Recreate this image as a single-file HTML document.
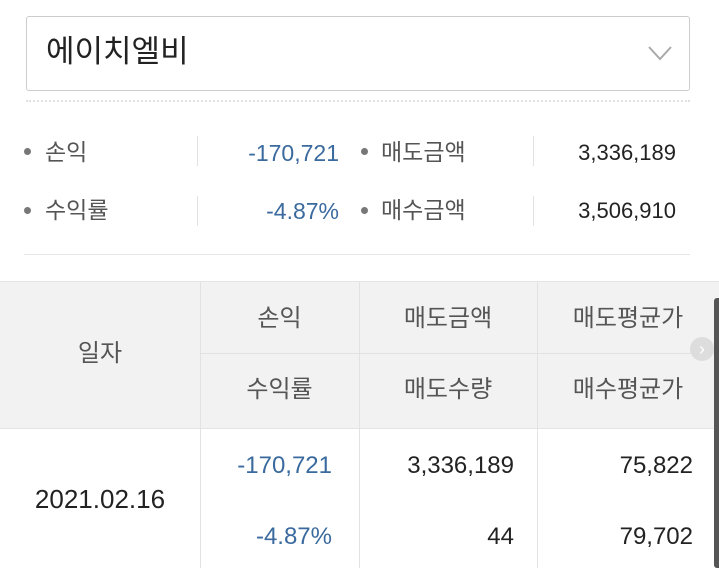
<!DOCTYPE html>
<html><head><meta charset="utf-8"><style>
body{margin:0;width:719px;height:568px;background:#fff;position:relative;overflow:hidden;font-family:"Liberation Sans","Noto Sans CJK KR",sans-serif;}
.a{position:absolute;white-space:nowrap;line-height:1;}
.g{color:#555;font-size:23px}
.b{color:#3a6a9e;font-size:23px}
.k{color:#222;font-size:22px}
.dot{position:absolute;width:7px;height:7px;border-radius:50%;background:#777}
.vl{position:absolute;width:1px;background:#e2e2e2}
.h{color:#555;font-size:24px;text-align:center}
.c{font-size:24px;text-align:right}
</style></head><body>
<div style="position:absolute;left:26px;top:16px;width:662px;height:73px;border:1px solid #ccc;border-radius:3px"></div>
<div class="a" style="left:46px;top:36px;font-size:31px;color:#222">에이치엘비</div>
<svg style="position:absolute;left:647px;top:44px" width="26" height="18"><polyline points="2,3 13,15 24,3" fill="none" stroke="#aaa" stroke-width="2"/></svg>
<div style="position:absolute;left:26px;top:100px;width:664px;border-top:2px dotted #e0e0e0"></div>

<div class="dot" style="left:24px;top:148px"></div>
<div class="a g" style="left:45px;top:141px">손익</div>
<div class="vl" style="left:197px;top:136px;height:30px"></div>
<div class="a b" style="right:380px;top:142px">-170,721</div>
<div class="dot" style="left:361px;top:148px"></div>
<div class="a g" style="left:381px;top:141px">매도금액</div>
<div class="vl" style="left:533px;top:136px;height:30px"></div>
<div class="a k" style="right:43px;top:142px">3,336,189</div>

<div class="dot" style="left:24px;top:207px"></div>
<div class="a g" style="left:45px;top:199px">수익률</div>
<div class="vl" style="left:197px;top:196px;height:30px"></div>
<div class="a b" style="right:380px;top:200px">-4.87%</div>
<div class="dot" style="left:361px;top:207px"></div>
<div class="a g" style="left:381px;top:199px">매수금액</div>
<div class="vl" style="left:533px;top:196px;height:30px"></div>
<div class="a k" style="right:43px;top:200px">3,506,910</div>

<div style="position:absolute;left:24px;top:254px;width:666px;border-top:1px solid #e6e6e6"></div>

<div style="position:absolute;left:0;top:281px;width:719px;height:146px;background:#f2f2f2;border-top:1px solid #e4e4e4;border-bottom:1px solid #e4e4e4"></div>
<div style="position:absolute;left:200px;top:353px;width:519px;border-top:1px solid #e2e2e2"></div>
<div class="vl" style="left:200px;top:282px;height:286px"></div>
<div class="vl" style="left:359px;top:282px;height:286px"></div>
<div class="vl" style="left:537px;top:282px;height:286px"></div>
<div style="position:absolute;left:714px;top:298px;width:5px;height:270px;background:#555;border-radius:3px 0 0 3px"></div>
<div style="position:absolute;left:690px;top:337px;width:24px;height:24px;border-radius:50%;background:#ddd;color:#fff;font-size:18px;text-align:center;line-height:24px">›</div>

<div class="a h" style="left:0;width:200px;top:342px">일자</div>
<div class="a h" style="left:200px;width:159px;top:307px">손익</div>
<div class="a h" style="left:200px;width:159px;top:378px">수익률</div>
<div class="a h" style="left:359px;width:178px;top:307px">매도금액</div>
<div class="a h" style="left:359px;width:178px;top:378px">매도수량</div>
<div class="a h" style="left:537px;width:182px;top:307px">매도평균가</div>
<div class="a h" style="left:537px;width:182px;top:378px">매수평균가</div>

<div class="a" style="left:0;width:200px;text-align:center;top:486px;font-size:26px;color:#222">2021.02.16</div>
<div class="a c" style="right:387px;top:454px;color:#3a6a9e">-170,721</div>
<div class="a c" style="right:387px;top:525px;color:#3a6a9e">-4.87%</div>
<div class="a c" style="right:205px;top:454px;color:#222">3,336,189</div>
<div class="a c" style="right:205px;top:525px;color:#222">44</div>
<div class="a c" style="right:26px;top:454px;color:#222">75,822</div>
<div class="a c" style="right:26px;top:525px;color:#222">79,702</div>
</body></html>
